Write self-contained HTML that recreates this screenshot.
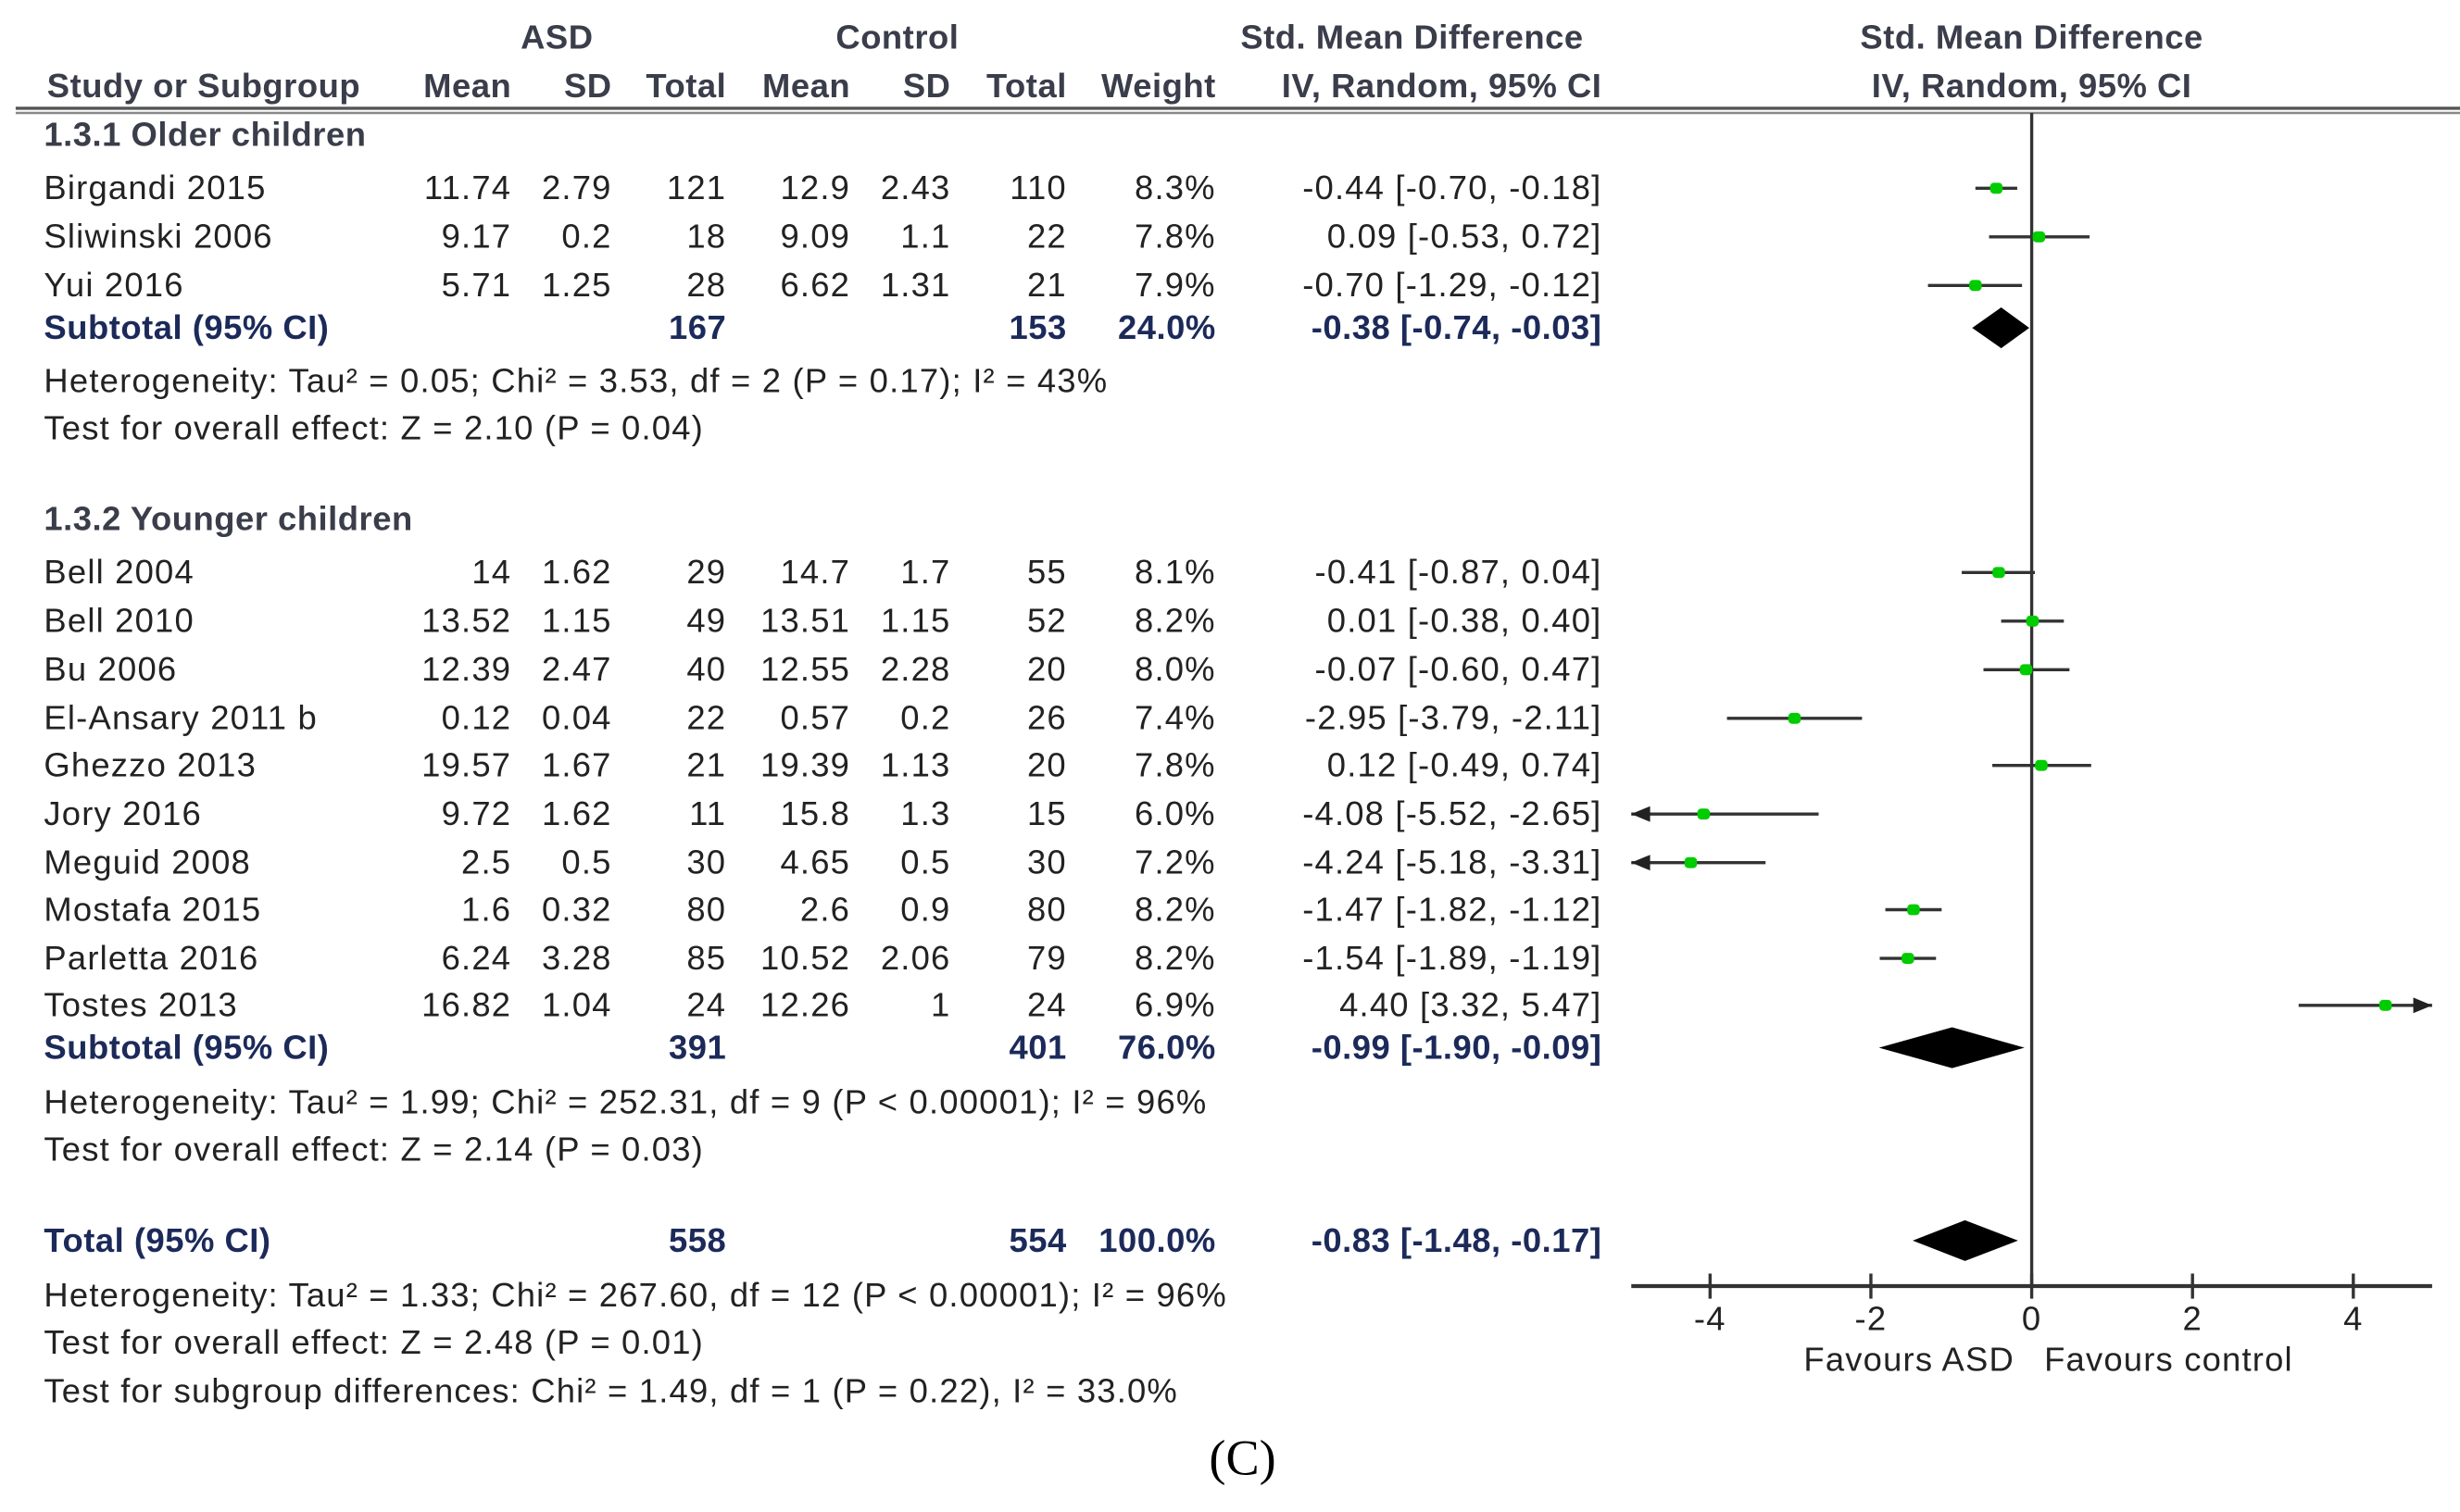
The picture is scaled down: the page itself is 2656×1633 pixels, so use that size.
<!DOCTYPE html>
<html><head><meta charset="utf-8"><style>
html,body{margin:0;padding:0;background:#fff;}
svg{display:block;}
text{font-family:"Liberation Sans",Arial,sans-serif;font-size:21.5px;letter-spacing:0.7px;fill:#222;}
.b{font-weight:bold;fill:#1c2a5a;letter-spacing:0.3px;}
.h{font-weight:bold;fill:#3a3d4a;letter-spacing:0.3px;}
</style></head><body>
<svg id="s" width="2656" height="1633" viewBox="0 0 1568 964" xmlns="http://www.w3.org/2000/svg">
<g id="tbl"></g>
<g id="plot"></g>
</svg>
<script>
const studies=["Birgandi 2015","Sliwinski 2006","Yui 2016","Bell 2004","Bell 2010","Bu 2006","El-Ansary 2011 b","Ghezzo 2013","Jory 2016","Meguid 2008","Mostafa 2015","Parletta 2016","Tostes 2013"];
const asdMean=["11.74","9.17","5.71","14","13.52","12.39","0.12","19.57","9.72","2.5","1.6","6.24","16.82"];
const asdSD=["2.79","0.2","1.25","1.62","1.15","2.47","0.04","1.67","1.62","0.5","0.32","3.28","1.04"];
const asdN=["121","18","28","29","49","40","22","21","11","30","80","85","24"];
const ctlMean=["12.9","9.09","6.62","14.7","13.51","12.55","0.57","19.39","15.8","4.65","2.6","10.52","12.26"];
const ctlSD=["2.43","1.1","1.31","1.7","1.15","2.28","0.2","1.13","1.3","0.5","0.9","2.06","1"];
const ctlN=["110","22","21","55","52","20","26","20","15","30","80","79","24"];
const weights=["8.3%","7.8%","7.9%","8.1%","8.2%","8.0%","7.4%","7.8%","6.0%","7.2%","8.2%","8.2%","6.9%"];
const smd=[-0.44,0.09,-0.70,-0.41,0.01,-0.07,-2.95,0.12,-4.08,-4.24,-1.47,-1.54,4.40];
const lo=[-0.70,-0.53,-1.29,-0.87,-0.38,-0.60,-3.79,-0.49,-5.52,-5.18,-1.82,-1.89,3.32];
const hi=[-0.18,0.72,-0.12,0.04,0.40,0.47,-2.11,0.74,-2.65,-3.31,-1.12,-1.19,5.47];
const rowY=[120,151,182,365,396,427,458,488,519,550,580,611,641];
const diaLabels=["Subtotal (95% CI)","Subtotal (95% CI)","Total (95% CI)"];
const diaAsdN=["167","391","558"];
const diaCtlN=["153","401","554"];
const diaW=["24.0%","76.0%","100.0%"];
const diaEst=[-0.38,-0.99,-0.83];
const diaLo=[-0.74,-1.90,-1.48];
const diaHi=[-0.03,-0.09,-0.17];
const diaY=[209,668,791];
const ticks=[-4,-2,0,2,4];
const NS="http://www.w3.org/2000/svg";
const X0=1295,U=51.25,XMIN=-4.98,XMAX=4.98;
function x(v){return X0+v*U;}
const tbl=document.getElementById('tbl'),plot=document.getElementById('plot');
function T(p,tx,xx,y,anchor,cls,name){const e=document.createElementNS(NS,'text');e.setAttribute('x',xx);e.setAttribute('y',y+7);if(anchor)e.setAttribute('text-anchor',anchor);if(cls)e.setAttribute('class',cls);e.textContent=tx;


p.appendChild(e);return e;}
function L(p,x1,y1,x2,y2,w,c,name){const e=document.createElementNS(NS,'line');e.setAttribute('x1',x1);e.setAttribute('y1',y1);e.setAttribute('x2',x2);e.setAttribute('y2',y2);e.setAttribute('stroke',c||'#222');e.setAttribute('stroke-width',w||2);


p.appendChild(e);return e;}
function f2(v){return (v<0?"-":"")+Math.abs(v).toFixed(2);}
function ci(e,l,h){return f2(e)+" ["+f2(l)+", "+f2(h)+"]";}
T(tbl,"ASD",355,24,"middle","h","header-asd");
T(tbl,"Control",572,24,"middle","h","header-control");
T(tbl,"Std. Mean Difference",900,24,"middle","h","header-smd");
T(tbl,"Std. Mean Difference",1295,24,"middle","h","header-smd-plot");
T(tbl,"Study or Subgroup",30,55,null,"h","header-study");
const hc=[["Mean",326],["SD",390],["Total",463],["Mean",542],["SD",606],["Total",680],["Weight",775]];
hc.forEach(h=>T(tbl,h[0],h[1],55,"end","h","header-"+h[0].toLowerCase()));
T(tbl,"IV, Random, 95% CI",1021,55,"end","h","header-iv-ci");
T(tbl,"IV, Random, 95% CI",1295,55,"middle","h","header-iv-ci-plot");
L(tbl,10,69,1568,69,2,'#555','header-rule');
L(tbl,10,72,1568,72,1.5,'#888','header-rule-2');
T(tbl,"1.3.1 Older children",28,86,null,"h","subgroup-older");
T(tbl,"1.3.2 Younger children",28,331,null,"h","subgroup-younger");
studies.forEach((s,i)=>{const y=rowY[i];
T(tbl,s,28,y,null,null,"study-name");
T(tbl,asdMean[i],326,y,"end",null,"asd-mean");
T(tbl,asdSD[i],390,y,"end",null,"asd-sd");
T(tbl,asdN[i],463,y,"end",null,"asd-total");
T(tbl,ctlMean[i],542,y,"end",null,"control-mean");
T(tbl,ctlSD[i],606,y,"end",null,"control-sd");
T(tbl,ctlN[i],680,y,"end",null,"control-total");
T(tbl,weights[i],775,y,"end",null,"weight");
T(tbl,ci(smd[i],lo[i],hi[i]),1021,y,"end",null,"smd-ci");
});
diaLabels.forEach((s,i)=>{const y=diaY[i];
T(tbl,s,28,y,null,"b","pooled-label");
T(tbl,diaAsdN[i],463,y,"end","b","pooled-asd-total");
T(tbl,diaCtlN[i],680,y,"end","b","pooled-control-total");
T(tbl,diaW[i],775,y,"end","b","pooled-weight");
T(tbl,ci(diaEst[i],diaLo[i],diaHi[i]),1021,y,"end","b","pooled-ci");
});
const notes=[["Heterogeneity: Tau² = 0.05; Chi² = 3.53, df = 2 (P = 0.17); I² = 43%",243],["Test for overall effect: Z = 2.10 (P = 0.04)",273],
["Heterogeneity: Tau² = 1.99; Chi² = 252.31, df = 9 (P < 0.00001); I² = 96%",703],["Test for overall effect: Z = 2.14 (P = 0.03)",733],
["Heterogeneity: Tau² = 1.33; Chi² = 267.60, df = 12 (P < 0.00001); I² = 96%",826],["Test for overall effect: Z = 2.48 (P = 0.01)",856],
["Test for subgroup differences: Chi² = 1.49, df = 1 (P = 0.22), I² = 33.0%",887]];
notes.forEach(n=>T(tbl,n[0],28,n[1],null,null,"statistics-note"));
const c=T(tbl,"(C)",792,933,"middle",null,"panel-label");c.setAttribute('style','font-family:"Liberation Serif",serif;font-size:32px;letter-spacing:0;fill:#000');
L(plot,X0,72,X0,820,2,'#333','zero-line');
L(plot,x(XMIN),820,x(XMAX),820,2.5,'#333','x-axis');
ticks.forEach(t=>{L(plot,x(t),812,x(t),828,2,'#333','x-tick');T(plot,String(t),x(t),841,"middle",null,"x-tick-label");});
T(plot,"Favours ASD",1284,867,"end",null,"favours-asd-label");
T(plot,"Favours control",1303,867,null,null,"favours-control-label");
studies.forEach((s,i)=>{const y=rowY[i];
const a=Math.max(lo[i],XMIN),b=Math.min(hi[i],XMAX);
L(plot,x(a),y,x(b),y,2,'#333','ci-line');
if(lo[i]<XMIN){const p=document.createElementNS(NS,'path');p.setAttribute('d',`M${x(XMIN)},${y} l12,-5 l0,10 z`);p.setAttribute('fill','#222');


plot.appendChild(p);}
if(hi[i]>XMAX){const p=document.createElementNS(NS,'path');p.setAttribute('d',`M${x(XMAX)},${y} l-12,-5 l0,10 z`);p.setAttribute('fill','#222');


plot.appendChild(p);}
const r=document.createElementNS(NS,'rect');r.setAttribute('x',x(smd[i])-4);r.setAttribute('y',y-3.5);r.setAttribute('width',8);r.setAttribute('height',7);r.setAttribute('rx',2.5);r.setAttribute('fill','#0c0');


plot.appendChild(r);
});
diaEst.forEach((e,i)=>{const y=diaY[i];const p=document.createElementNS(NS,'path');
p.setAttribute('d',`M${x(diaLo[i])},${y} L${x(e)},${y-13} L${x(diaHi[i])},${y} L${x(e)},${y+13} Z`);p.setAttribute('fill','#000');


plot.appendChild(p);});
</script>
</body></html>
